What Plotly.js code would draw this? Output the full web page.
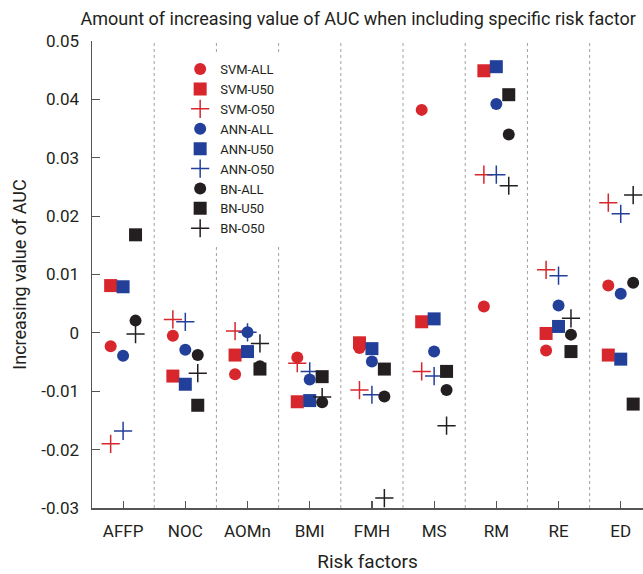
<!DOCTYPE html>
<html>
<head>
<meta charset="utf-8">
<script src="https://cdn.plot.ly/plotly-3.0.1.min.js"></script>
<style>html,body{margin:0;padding:0;background:#fff;}#chart{width:643px;height:574px;}</style>
</head>
<body>
<div id="chart"></div>
<script>
const categories = ["AFFP", "NOC", "AOMn", "BMI", "FMH", "MS", "RM", "RE", "ED"];

const svmAll = [-0.0023, -0.0005, -0.0071, -0.0042, -0.0026, 0.0382, 0.0045, -0.0030, 0.0081];
const svmU50 = [0.0081, -0.0074, -0.0038, -0.0118, -0.0017, 0.0019, 0.0449, -0.0001, -0.0038];
const svmO50 = [-0.0190, 0.0023, 0.0003, -0.0052, -0.0098, -0.0066, 0.0271, 0.0108, 0.0223];
const annAll = [-0.0039, -0.0029, 0.0001, -0.0080, -0.0049, -0.0032, 0.0392, 0.0047, 0.0067];
const annU50 = [0.0079, -0.0088, -0.0032, -0.0116, -0.0027, 0.0024, 0.0456, 0.0011, -0.0045];
const annO50 = [-0.0168, 0.0019, 0.0001, -0.0066, -0.0106, -0.0074, 0.0271, 0.0098, 0.0204];
const bnAll = [0.0021, -0.0038, -0.0057, -0.0119, -0.0109, -0.0098, 0.0340, -0.0003, 0.0086];
const bnU50 = [0.0168, -0.0124, -0.0062, -0.0075, -0.0062, -0.0066, 0.0408, -0.0032, -0.0122];
const bnO50 = [-0.0002, -0.0069, -0.0018, -0.0110, -0.0283, -0.0159, 0.0252, 0.0025, 0.0236];

const yTickVals = [0.05, 0.04, 0.03, 0.02, 0.01, 0, -0.01, -0.02, -0.03];
const yTickText = ["0.05", "0.04", "0.03", "0.02", "0.01", "0", "-0.01", "-0.02", "-0.03"];

const RED = "#d7262c", BLUE = "#22409a", BLACK = "#231f20";
const FONT = "Roboto, 'Liberation Sans', sans-serif";

const series = [
  {name: "SVM-ALL", y: svmAll, off: -0.2, color: RED, sym: "circle"},
  {name: "SVM-U50", y: svmU50, off: -0.2, color: RED, sym: "square"},
  {name: "SVM-O50", y: svmO50, off: -0.2, color: RED, sym: "cross-thin"},
  {name: "ANN-ALL", y: annAll, off: 0, color: BLUE, sym: "circle"},
  {name: "ANN-U50", y: annU50, off: 0, color: BLUE, sym: "square"},
  {name: "ANN-O50", y: annO50, off: 0, color: BLUE, sym: "cross-thin"},
  {name: "BN-ALL", y: bnAll, off: 0.2, color: BLACK, sym: "circle"},
  {name: "BN-U50", y: bnU50, off: 0.2, color: BLACK, sym: "square"},
  {name: "BN-O50", y: bnO50, off: 0.2, color: BLACK, sym: "cross-thin"}
];

const traces = series.map(s => {
  const isCross = s.sym === "cross-thin";
  return {
    type: "scatter",
    mode: "markers",
    name: s.name,
    x: categories.map((c, i) => i + s.off),
    y: s.y,
    marker: {
      symbol: s.sym,
      color: s.color,
      size: isCross ? 13 : (s.sym === "square" ? 13 : 12),
      line: isCross ? {color: s.color, width: 1.5} : {width: 0}
    },
    hoverinfo: "name+y"
  };
});

const shapes = categories.slice(0, -1).map((c, i) => ({
  type: "line", xref: "x", yref: "paper",
  x0: i + 0.5, x1: i + 0.5, y0: 0, y1: 1,
  line: {color: "#a0a0a0", width: 1, dash: "dot"},
  layer: "below"
}));

const layout = {
  width: 643, height: 574,
  margin: {l: 92, r: 0, t: 41, b: 66},
  paper_bgcolor: "#fff", plot_bgcolor: "#fff",
  font: {family: FONT, color: "#231f20"},
  title: {
    text: "Amount of increasing value of AUC when including specific risk factor",
    font: {size: 18, family: FONT, color: "#231f20"},
    xref: "container", x: 0.557, xanchor: "center",
    yref: "container", y: 0.968, yanchor: "middle"
  },
  xaxis: {
    range: [-0.5, 8.358],
    tickvals: categories.map((c, i) => i),
    ticktext: categories,
    ticks: "inside", ticklen: 7, tickwidth: 1.2, tickcolor: "#555",
    showline: true, linecolor: "#555", linewidth: 1.5,
    showgrid: false, zeroline: false,
    tickfont: {size: 17, family: FONT},
    ticklabelstandoff: 7,
    title: {text: "Risk factors", font: {size: 19, family: FONT}, standoff: 15}
  },
  yaxis: {
    range: [-0.03, 0.05],
    tickvals: yTickVals,
    ticktext: yTickText,
    ticks: "inside", ticklen: 8, tickwidth: 1.2, tickcolor: "#555",
    showline: true, linecolor: "#555", linewidth: 1.5,
    showgrid: false, zeroline: false,
    tickfont: {size: 17, family: FONT},
    ticklabelstandoff: 8,
    title: {text: "Increasing value of AUC", font: {size: 18, family: FONT}, standoff: 10}
  },
  shapes: shapes,
  showlegend: true,
  legend: {
    x: 0.16, y: 0.972, xanchor: "left", yanchor: "top",
    bgcolor: "#fff", borderwidth: 0,
    font: {size: 13, family: FONT, color: "#231f20"},
    itemwidth: 30
  }
};

Plotly.newPlot("chart", traces, layout, {displayModeBar: false, staticPlot: true});
</script>
</body>
</html>
